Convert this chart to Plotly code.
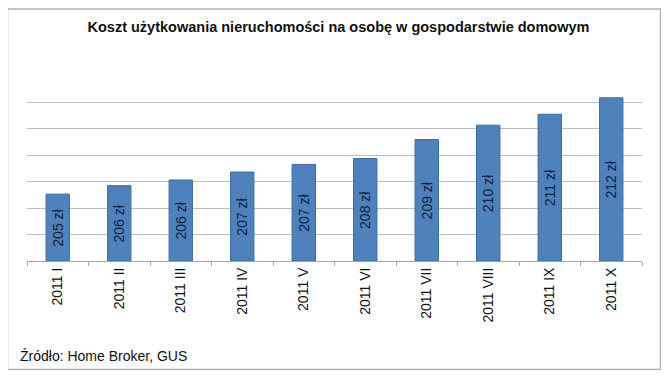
import plotly.graph_objects as go

categories = ["2011 I", "2011 II", "2011 III", "2011 IV", "2011 V",
              "2011 VI", "2011 VII", "2011 VIII", "2011 IX", "2011 X"]
values = [205.06, 205.70, 206.13, 206.73, 207.31, 207.75, 209.19, 210.28, 211.11, 212.35]
value_labels = ["205 zł", "206 zł", "206 zł", "207 zł", "207 zł",
                "208 zł", "209 zł", "210 zł", "211 zł", "212 zł"]
axis_min = 200
axis_max = 214

# The page body has an 8px default margin; lay out in figure coordinates
OFF = 8
W, H = 669 - OFF, 378 - 2 * OFF
ml, mr, mt, mb = 27 - OFF, W - (642 - OFF), 76 - OFF, H - (261 - OFF)
pw = W - ml - mr
ph = H - mt - mb

def px_x(x):  # screen px -> paper
    return (x - OFF - ml) / pw

def px_y(y):  # screen px -> paper
    return (H - mb - (y - OFF)) / ph

font_family = "Liberation Sans, Arial, sans-serif"

fig = go.Figure()
fig.add_trace(go.Bar(
    x=categories,
    y=[v - axis_min for v in values],
    base=axis_min,
    text=value_labels,
    textposition="inside",
    insidetextanchor="middle",
    textangle=-90,
    textfont=dict(family=font_family, size=14, color="#0f2240"),
    marker=dict(color="#4F81BD", line=dict(color="#3A6C9F", width=1)),
))

fig.update_layout(
    width=W, height=H,
    margin=dict(l=ml, r=mr, t=mt, b=mb),
    paper_bgcolor="white",
    plot_bgcolor="white",
    bargap=0.62,
    showlegend=False,
    font=dict(family=font_family, size=13, color="#000000"),
    title=dict(
        text="<b>Koszt użytkowania nieruchomości na osobę w gospodarstwie domowym</b>",
        x=0.5, xanchor="center",
        y=1 - (27 - OFF) / H, yanchor="middle",
        font=dict(family=font_family, size=14.5, color="#111111"),
    ),
    xaxis=dict(
        type="category",
        tickangle=-90,
        tickson="boundaries",
        ticks="outside",
        ticklen=4,
        tickcolor="#A6A6A6",
        showline=True,
        linecolor="#A6A6A6",
        linewidth=1,
        showgrid=False,
        automargin=False,
        tickfont=dict(family=font_family, size=14, color="#111111"),
    ),
    yaxis=dict(
        range=[axis_min, axis_max],
        dtick=2,
        showticklabels=False,
        showgrid=True,
        gridcolor="#BFBFBF",
        gridwidth=1,
        zeroline=False,
        showline=False,
        ticks="",
    ),
    shapes=[dict(
        type="rect", xref="paper", yref="paper",
        x0=px_x(7.5), x1=px_x(660.5), y0=px_y(369.5), y1=px_y(9),
        line=dict(color="#B0B0B0", width=1.5),
        fillcolor="rgba(0,0,0,0)", layer="below",
    )],
    annotations=[dict(
        text="Źródło: Home Broker, GUS",
        xref="paper", yref="paper",
        x=px_x(18), y=px_y(356), xanchor="left", yanchor="middle",
        showarrow=False,
        font=dict(family=font_family, size=14, color="#111111"),
    )],
)

fig.write_html("out.html")
